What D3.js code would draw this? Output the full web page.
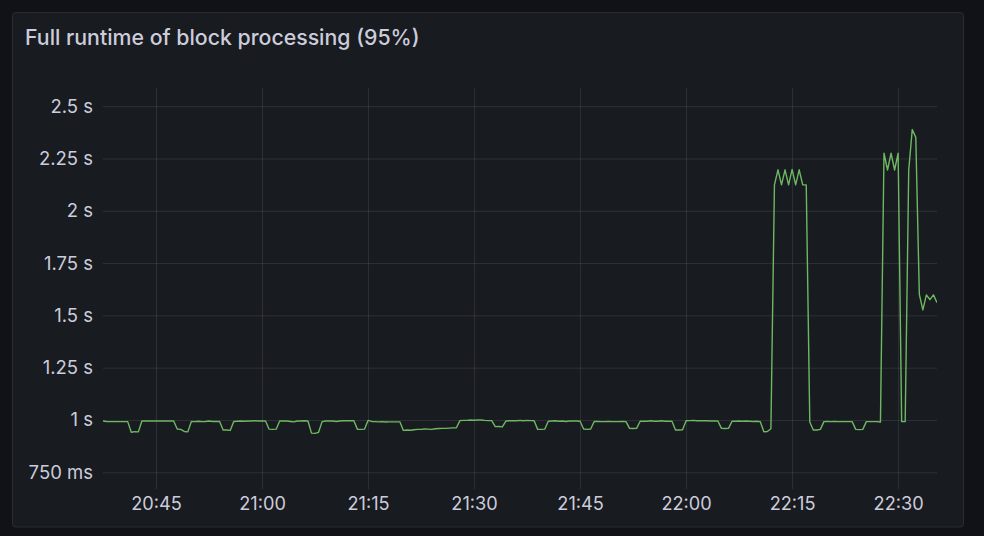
<!DOCTYPE html>
<html>
<head>
<meta charset="utf-8">
<script src="https://cdn.jsdelivr.net/npm/d3@7"></script>
<style>
  html, body { margin: 0; padding: 0; background: #111217; }
  svg { display: block; }
  text { font-family: Inter, "Noto Sans", sans-serif; }
</style>
</head>
<body>
<svg id="chart" width="984" height="536"></svg>
<script>
var title = 'Full runtime of block processing (95%)';

// samples every 30s starting at startTime (seconds)
var startTime = '20:37:30';
var stepSeconds = 30;
var runtime = [
  0.995, 0.993, 0.992, 0.992, 0.992, 0.992, 0.992, 0.992, 0.941, 0.944,
  0.943, 0.995, 0.995, 0.995, 0.995, 0.995, 0.995, 0.995, 0.995, 0.995,
  0.995, 0.957, 0.955, 0.945, 0.943, 0.993, 0.992, 0.994, 0.992, 0.993,
  0.995, 0.993, 0.993, 0.993, 0.952, 0.952, 0.950, 0.993, 0.994, 0.995,
  0.994, 0.995, 0.995, 0.996, 0.995, 0.995, 0.995, 0.956, 0.955, 0.956,
  0.995, 0.995, 0.995, 0.993, 0.991, 0.995, 0.995, 0.996, 0.995, 0.937,
  0.936, 0.941, 0.992, 0.995, 0.995, 0.995, 0.993, 0.995, 0.996, 0.996,
  0.996, 0.996, 0.955, 0.955, 0.956, 0.998, 0.993, 0.992, 0.991, 0.992,
  0.990, 0.991, 0.991, 0.991, 0.991, 0.950, 0.952, 0.951, 0.953, 0.955,
  0.955, 0.957, 0.956, 0.955, 0.958, 0.959, 0.960, 0.960, 0.961, 0.962,
  0.963, 0.997, 0.998, 0.998, 1.000, 0.999, 1.000, 1.000, 0.998, 0.997,
  0.997, 0.968, 0.969, 0.967, 0.995, 0.996, 0.997, 0.996, 0.998, 0.996,
  0.998, 0.997, 0.996, 0.955, 0.955, 0.956, 0.994, 0.995, 0.996, 0.994,
  0.995, 0.993, 0.995, 0.995, 0.995, 0.994, 0.957, 0.955, 0.957, 0.993,
  0.993, 0.992, 0.992, 0.993, 0.992, 0.992, 0.992, 0.993, 0.992, 0.960,
  0.959, 0.960, 0.994, 0.994, 0.994, 0.996, 0.994, 0.994, 0.996, 0.994,
  0.994, 0.994, 0.952, 0.952, 0.953, 0.996, 0.997, 0.998, 0.996, 0.996,
  0.996, 0.996, 0.995, 0.995, 0.995, 0.960, 0.959, 0.960, 0.994, 0.994,
  0.995, 0.994, 0.995, 0.994, 0.993, 0.994, 0.992, 0.944, 0.945, 0.958,
  2.124, 2.196, 2.124, 2.196, 2.124, 2.198, 2.124, 2.196, 2.124, 2.124,
  0.990, 0.952, 0.952, 0.955, 0.992, 0.993, 0.992, 0.993, 0.992, 0.992,
  0.992, 0.992, 0.992, 0.955, 0.954, 0.955, 0.992, 0.992, 0.992, 0.992,
  0.990, 2.275, 2.195, 2.275, 2.195, 2.275, 0.992, 0.992, 2.195, 2.389,
  2.351, 1.600, 1.526, 1.598, 1.575, 1.598, 1.561
];

var xDomain = ['20:37:30', '22:35:30'];
var xTicks = ['20:45', '21:00', '21:15', '21:30', '21:45', '22:00', '22:15', '22:30'];
var yDomain = [0.67, 2.587];
var yTicks = [0.75, 1, 1.25, 1.5, 1.75, 2, 2.25, 2.5];
var yTickLabels = ['750 ms', '1 s', '1.25 s', '1.5 s', '1.75 s', '2 s', '2.25 s', '2.5 s'];

var parseT = d3.timeParse('%H:%M:%S');
var parseHM = d3.timeParse('%H:%M');

var plot = { left: 103, right: 937, top: 88, bottom: 489 };
var textColor = '#ccccdc';
var gridColor = 'rgba(204,204,220,0.12)';

var svg = d3.select('#chart');

// panel
svg.append('rect')
  .attr('x', 12.5).attr('y', 12.5)
  .attr('width', 951).attr('height', 514.5)
  .attr('rx', 3)
  .attr('fill', '#181b1f')
  .attr('stroke', '#2a2c32');

svg.append('text')
  .attr('x', 25).attr('y', 44.5)
  .attr('fill', textColor)
  .attr('font-size', '21.3px')
  .attr('font-weight', 500)
  .text(title);

var t0 = parseT(startTime);
var data = runtime.map(function(v, i) {
  return { t: new Date(t0.getTime() + i * stepSeconds * 1000), v: v };
});

var x = d3.scaleTime()
  .domain(xDomain.map(parseT))
  .range([plot.left, plot.right]);

var y = d3.scaleLinear()
  .domain(yDomain)
  .range([plot.bottom, plot.top]);

var xTickDates = xTicks.map(parseHM);

// grid
svg.append('g')
  .attr('transform', 'translate(' + plot.left + ',0)')
  .call(d3.axisLeft(y).tickValues(yTicks).tickSize(-(plot.right - plot.left)).tickFormat(''))
  .call(function(g) {
    g.select('.domain').remove();
    g.selectAll('line').attr('stroke', gridColor);
  });

svg.append('g')
  .attr('transform', 'translate(0,' + plot.bottom + ')')
  .call(d3.axisBottom(x).tickValues(xTickDates).tickSize(-(plot.bottom - plot.top)).tickFormat(''))
  .call(function(g) {
    g.select('.domain').remove();
    g.selectAll('line').attr('stroke', gridColor);
  });

// axis labels
svg.append('g')
  .attr('transform', 'translate(' + plot.left + ',0)')
  .call(d3.axisLeft(y).tickValues(yTicks).tickSize(0).tickPadding(10)
    .tickFormat(function(d, i) { return yTickLabels[i]; }))
  .call(function(g) {
    g.select('.domain').remove();
    g.selectAll('text')
      .attr('fill', textColor)
      .attr('font-size', '18.5px')
      .attr('font-family', 'Inter, "Noto Sans", sans-serif');
  });

svg.append('g')
  .attr('transform', 'translate(0,' + plot.bottom + ')')
  .call(d3.axisBottom(x).tickValues(xTickDates).tickSize(0).tickPadding(8)
    .tickFormat(function(d, i) { return xTicks[i]; }))
  .call(function(g) {
    g.select('.domain').remove();
    g.selectAll('text')
      .attr('fill', textColor)
      .attr('font-size', '18.2px')
      .attr('font-family', 'Inter, "Noto Sans", sans-serif');
  });

svg.append('clipPath').attr('id', 'clip')
  .append('rect')
  .attr('x', plot.left).attr('y', plot.top)
  .attr('width', plot.right - plot.left).attr('height', plot.bottom - plot.top);

var line = d3.line()
  .x(function(d) { return x(d.t); })
  .y(function(d) { return y(d.v); });

svg.append('path')
  .datum(data)
  .attr('clip-path', 'url(#clip)')
  .attr('fill', 'none')
  .attr('stroke', '#6fb863')
  .attr('stroke-width', 1.4)
  .attr('stroke-linejoin', 'round')
  .attr('d', line);
</script>
</body>
</html>
